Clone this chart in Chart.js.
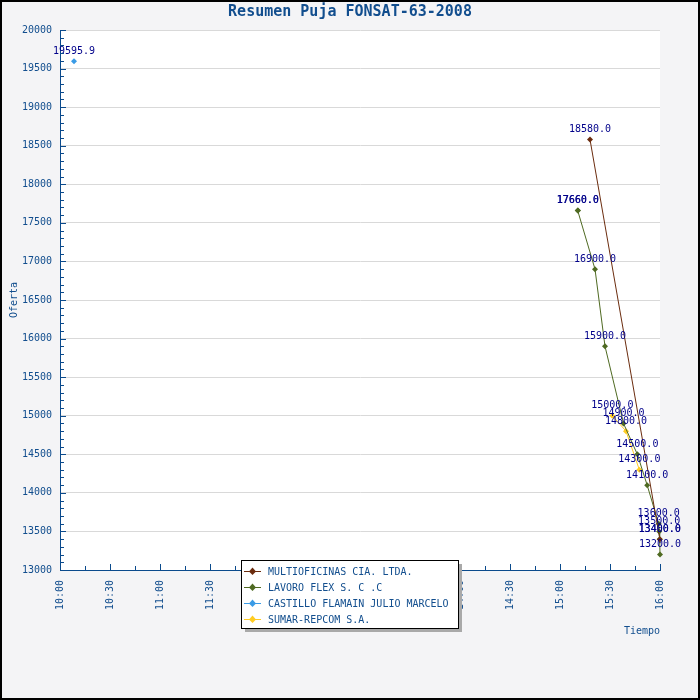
<!DOCTYPE html>
<html>
<head>
<meta charset="utf-8">
<script src="https://cdn.jsdelivr.net/npm/chart.js@4/dist/chart.umd.min.js"></script>
<style>
  html, body { margin: 0; padding: 0; background: #f4f4f6; }
  #wrap { width: 700px; height: 700px; }
</style>
</head>
<body>
<div id="wrap"><canvas id="c" width="700" height="700"></canvas></div>
<script>
// ---- data (time in minutes since midnight) ----
const chartTitle = "Resumen Puja FONSAT-63-2008";
const seriesNames = ["MULTIOFICINAS CIA. LTDA.", "LAVORO FLEX S. C .C", "CASTILLO FLAMAIN JULIO MARCELO", "SUMAR-REPCOM S.A."];
const seriesColors = ["#6b2c0e", "#4f6a22", "#3a9be6", "#ffcc22"];

const multiTimes  = [918, 959.9];
const multiValues = [18580, 13400];

const lavoroTimes  = [910.6, 910.8, 921, 927, 938.1, 946.4, 952.3, 959.2, 959.5, 959.8, 960];
const lavoroValues = [17660, 17660, 16900, 15900, 14900, 14500, 14100, 13600, 13500, 13400, 13200];

const castilloTimes  = [608.4];
const castilloValues = [19595.9];

const sumarTimes  = [931.4, 939.6, 947.6];
const sumarValues = [15000, 14800, 14300];

const xMin = 600, xMax = 960, xStep = 30, xMinorStep = 15;
const yMin = 13000, yMax = 20000, yStep = 500, yMinorStep = 100;
const xTitle = "Tiempo", yTitle = "Oferta";

const axisColor = "#0a4a8c";
const textColor = "#124e8e";
const labelColor = "#00008a";
const FONT = "'DejaVu Sans Mono', monospace";

function pts(ts, vs) { return ts.map((t, i) => ({ x: t, y: vs[i] })); }
function fmtTime(v) { const h = Math.floor(v / 60), m = Math.round(v % 60); return h + ":" + String(m).padStart(2, "0"); }

const seriesData = [pts(multiTimes, multiValues), pts(lavoroTimes, lavoroValues), pts(castilloTimes, castilloValues), pts(sumarTimes, sumarValues)];

const datasets = seriesData.map((d, i) => ({
  label: seriesNames[i],
  data: d,
  showLine: true,
  borderColor: seriesColors[i],
  backgroundColor: seriesColors[i],
  borderWidth: 1,
  pointStyle: "rectRot",
  pointRadius: 3,
  pointBorderWidth: 0,
  pointHoverRadius: 3,
  tension: 0,
  clip: false
}));

const decor = {
  id: "decor",
  beforeDraw(chart) {
    const { ctx, chartArea: a } = chart;
    ctx.save();
    ctx.fillStyle = "#f4f4f6";
    ctx.fillRect(0, 0, chart.width, chart.height);
    ctx.fillStyle = "#ffffff";
    ctx.fillRect(a.left, a.top, a.right - a.left, a.bottom - a.top);
    ctx.restore();
  },
  afterDatasetsDraw(chart) {
    const { ctx } = chart;
    ctx.save();
    ctx.font = "10px " + FONT;
    ctx.fillStyle = labelColor;
    ctx.textAlign = "center";
    ctx.textBaseline = "middle";
    chart.data.datasets.forEach((ds, di) => {
      const meta = chart.getDatasetMeta(di);
      meta.data.forEach((el, j) => {
        ctx.fillText(ds.data[j].y.toFixed(1), el.x, el.y - 10);
      });
    });
    ctx.restore();
  },
  afterDraw(chart) {
    const { ctx, chartArea: a, scales } = chart;
    const xs = scales.x, ys = scales.y;
    ctx.save();
    // inner ticks
    ctx.strokeStyle = axisColor;
    ctx.lineWidth = 1;
    ctx.beginPath();
    for (let v = yMin; v <= yMax; v += yMinorStep) {
      const y = Math.round(ys.getPixelForValue(v)) + 0.5;
      const len = (v % yStep === 0) ? 6 : 4;
      ctx.moveTo(a.left, y); ctx.lineTo(a.left + len, y);
    }
    for (let v = xMin; v <= xMax; v += xMinorStep) {
      const x = Math.round(xs.getPixelForValue(v)) + 0.5;
      const len = ((v - xMin) % xStep === 0) ? 6 : 4;
      ctx.moveTo(x, a.bottom); ctx.lineTo(x, a.bottom - len);
    }
    ctx.stroke();

    // title
    ctx.font = "bold 15px " + FONT;
    ctx.fillStyle = textColor;
    ctx.textAlign = "center";
    ctx.textBaseline = "middle";
    ctx.fillText(chartTitle, 350, 12);

    // legend
    const lx = 241.5, ly = 560.5, lw = 217, lh = 68;
    ctx.fillStyle = "#a9a9a9";
    ctx.fillRect(lx + 3.5, ly + 3.5, lw, lh);
    ctx.fillStyle = "#ffffff";
    ctx.fillRect(lx, ly, lw, lh);
    ctx.strokeStyle = "#000000";
    ctx.strokeRect(lx, ly, lw, lh);
    ctx.font = "10px " + FONT;
    ctx.textAlign = "left";
    ctx.textBaseline = "middle";
    chart.data.datasets.forEach((ds, i) => {
      const ry = 571 + i * 16;
      ctx.strokeStyle = ds.borderColor;
      ctx.beginPath();
      ctx.moveTo(244, ry + 0.5); ctx.lineTo(261, ry + 0.5);
      ctx.stroke();
      ctx.fillStyle = ds.borderColor;
      ctx.beginPath();
      ctx.moveTo(252.5, ry - 3.5); ctx.lineTo(256, ry + 0.5); ctx.lineTo(252.5, ry + 4); ctx.lineTo(249, ry + 0.5);
      ctx.closePath(); ctx.fill();
      ctx.fillStyle = textColor;
      ctx.fillText(ds.label, 268, ry + 1);
    });

    // outer frame
    ctx.strokeStyle = "#000000";
    ctx.lineWidth = 2;
    ctx.strokeRect(1, 1, chart.width - 2, chart.height - 2);
    ctx.restore();
  }
};

Chart.defaults.font.family = FONT;

new Chart(document.getElementById("c"), {
  type: "scatter",
  data: { datasets },
  options: {
    responsive: false,
    animation: false,
    devicePixelRatio: 1,
    layout: { padding: { top: 30, right: 40, bottom: 60, left: 0 } },
    plugins: { legend: { display: false }, tooltip: { enabled: false }, title: { display: false } },
    scales: {
      x: {
        type: "linear",
        min: xMin, max: xMax,
        afterFit(s) { s.height = 70; },
        grid: { display: false, drawTicks: false },
        border: { display: true, color: axisColor, width: 1 },
        ticks: {
          stepSize: xStep, autoSkip: false, maxRotation: 90, minRotation: 90,
          padding: 10, color: textColor, font: { size: 10, family: FONT },
          callback: v => fmtTime(v)
        },
        title: { display: true, text: xTitle, align: "end", color: textColor, font: { size: 10, family: FONT }, padding: { top: 0, bottom: 3 } }
      },
      y: {
        type: "linear",
        min: yMin, max: yMax,
        afterFit(s) { s.width = 60; },
        grid: { color: "#d9d9d9", lineWidth: 1, drawTicks: false },
        border: { display: true, color: axisColor, width: 1 },
        ticks: {
          stepSize: yStep, padding: 8, color: textColor, font: { size: 10, family: FONT },
          callback: v => String(v)
        },
        title: { display: true, text: yTitle, color: textColor, font: { size: 10, family: FONT }, padding: { top: 8, bottom: 0 } }
      }
    }
  },
  plugins: [decor]
});
</script>
</body>
</html>
